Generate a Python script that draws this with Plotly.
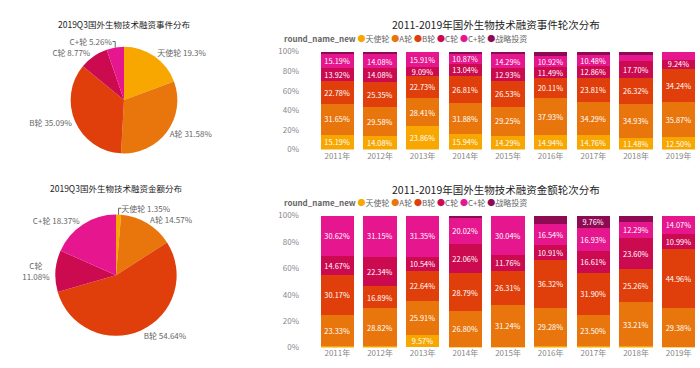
import plotly.graph_objects as go

# ---------------- data ----------------
rounds = ["天使轮", "A轮", "B轮", "C轮", "C+轮", "战略投资"]
colors = ["#F7A700", "#E8760C", "#E03E0A", "#CC0A50", "#E6168F", "#8E0A52"]

pie_labels = ["天使轮", "A轮", "B轮", "C轮", "C+轮"]
pie_event_pct = [19.30, 31.58, 35.09, 8.77, 5.26]
pie_event_txt = ["天使轮 19.3%", "A轮 31.58%", "B轮 35.09%", "C轮 8.77%", "C+轮 5.26%"]
pie_amount_pct = [1.35, 14.57, 54.64, 11.08, 18.37]
pie_amount_txt = ["天使轮 1.35%", "A轮 14.57%", "B轮 54.64%", "C轮<br>11.08%", "C+轮 18.37%"]

years = ["2011年", "2012年", "2013年", "2014年", "2015年", "2016年", "2017年", "2018年", "2019年"]
pct_ticks = [0, 20, 40, 60, 80, 100]
pct_tick_text = ["0%", "20%", "40%", "60%", "80%", "100%"]

# event share by round (%), per year
ev_angel = [15.19, 14.08, 23.86, 15.94, 14.29, 14.94, 14.76, 11.48, 12.50]
ev_a     = [31.65, 29.58, 28.41, 31.88, 29.25, 37.93, 34.29, 34.93, 35.87]
ev_b     = [22.78, 25.35, 22.73, 26.81, 26.53, 20.11, 23.81, 26.32, 34.24]
ev_c     = [13.92, 14.08, 9.09, 13.04, 12.93, 11.49, 12.86, 17.70, 9.24]
ev_cplus = [15.19, 14.08, 15.91, 10.87, 14.29, 10.92, 10.48, 6.50, 8.15]
ev_strat = [1.27, 2.83, 0.00, 1.46, 2.71, 4.61, 3.80, 3.07, 0.00]

# amount share by round (%), per year
am_angel = [1.21, 0.80, 9.57, 0.60, 0.65, 0.90, 1.30, 1.00, 0.60]
am_a     = [23.33, 28.82, 25.91, 26.80, 31.24, 29.28, 23.50, 33.21, 29.38]
am_b     = [30.17, 16.89, 22.64, 28.79, 26.31, 36.32, 31.90, 25.26, 44.96]
am_c     = [14.67, 22.34, 10.54, 22.06, 11.76, 10.91, 16.61, 23.60, 10.99]
am_cplus = [30.62, 31.15, 31.35, 20.02, 30.04, 16.54, 16.93, 12.29, 14.07]
am_strat = [0.00, 0.00, 0.00, 1.73, 0.00, 6.05, 9.76, 4.64, 0.00]

ev_series = [ev_angel, ev_a, ev_b, ev_c, ev_cplus, ev_strat]
am_series = [am_angel, am_a, am_b, am_c, am_cplus, am_strat]

FONT = "Noto Sans CJK SC, Microsoft YaHei, sans-serif"
W, H = 700, 368

def px_x(x):
    return x / W

def px_y(y):
    return 1 - y / H

fig = go.Figure()

# ---------------- pies ----------------
fig.add_trace(go.Pie(
    labels=pie_labels, values=pie_event_pct, text=pie_event_txt,
    textinfo="text", textposition="outside", sort=False, direction="clockwise",
    rotation=0, marker=dict(colors=colors[:5]),
    textfont=dict(size=8, color="#666666", family=FONT),
    domain=dict(x=[px_x(69), px_x(179)], y=[px_y(152), px_y(42)]),
    showlegend=False, hoverinfo="label+percent",
))
fig.add_trace(go.Pie(
    labels=pie_labels, values=pie_amount_pct, text=pie_amount_txt,
    textinfo="text", textposition="outside", sort=False, direction="clockwise",
    rotation=0, marker=dict(colors=colors[:5]),
    textfont=dict(size=8, color="#666666", family=FONT),
    domain=dict(x=[px_x(54), px_x(178)], y=[px_y(340), px_y(215)]),
    showlegend=False, hoverinfo="label+percent",
))

# ---------------- stacked bars ----------------
def labels_for(vals):
    return [f"{v:.2f}%" if v >= 9 else "" for v in vals]

for name, col, vals in zip(rounds, colors, ev_series):
    fig.add_trace(go.Bar(
        x=years, y=vals, name=name, marker=dict(color=col, line=dict(width=0)),
        text=labels_for(vals), textposition="inside", insidetextanchor="middle",
        textangle=0, textfont=dict(size=8, color="white", family=FONT),
        xaxis="x", yaxis="y", showlegend=False,
    ))
for name, col, vals in zip(rounds, colors, am_series):
    fig.add_trace(go.Bar(
        x=years, y=vals, name=name, marker=dict(color=col, line=dict(width=0)),
        text=labels_for(vals), textposition="inside", insidetextanchor="middle",
        textangle=0, textfont=dict(size=8, color="white", family=FONT),
        xaxis="x2", yaxis="y2", showlegend=False,
    ))

axis_common = dict(showgrid=False, zeroline=False, showline=False, ticks="",
                   tickfont=dict(size=8, color="#888888", family=FONT))

fig.update_layout(
    width=W, height=H, margin=dict(l=0, r=0, t=0, b=0),
    paper_bgcolor="white", plot_bgcolor="white",
    barmode="stack", bargap=0.22,
    uniformtext=dict(minsize=7, mode="show"),
    font=dict(family=FONT),
    xaxis=dict(domain=[px_x(316), px_x(700)], anchor="y", **axis_common),
    yaxis=dict(domain=[px_y(148), px_y(47)], anchor="x", range=[0, 100],
               tickvals=pct_ticks, ticktext=pct_tick_text, ticklabelstandoff=16,
               **axis_common),
    xaxis2=dict(domain=[px_x(316), px_x(700)], anchor="y2", **axis_common),
    yaxis2=dict(domain=[px_y(352), px_y(216)], anchor="x2", range=[0, 100],
                tickvals=pct_ticks, ticktext=pct_tick_text, ticklabelstandoff=16,
                **axis_common),
)

# ---------------- titles ----------------
def title(text, x, y, size):
    fig.add_annotation(text=text, x=px_x(x), y=px_y(y), xref="paper", yref="paper",
                       showarrow=False, xanchor="center", yanchor="middle",
                       font=dict(size=size, color="#222222", family=FONT))

title("2019Q3国外生物技术融资事件分布", 124, 19, 8.5)
title("2019Q3国外生物技术融资金额分布", 116, 188, 8.5)
title("2011-2019年国外生物技术融资事件轮次分布", 496, 19, 10.5)
title("2011-2019年国外生物技术融资金额轮次分布", 496, 189, 10.5)

# ---------------- legends (as text) ----------------
legend_html = "<b>round_name_new</b> " + " ".join(
    f"<span style='color:{c}'>●</span>{r}" for r, c in zip(rounds, colors))
for ly in (34, 203):
    fig.add_annotation(text=legend_html, x=px_x(282), y=px_y(ly), xref="paper", yref="paper",
                       showarrow=False, xanchor="left", yanchor="middle",
                       font=dict(size=8, color="#666666", family=FONT))

fig.write_html("out.html", config={"displayModeBar": False},
               post_script="document.body.style.margin='0';")
